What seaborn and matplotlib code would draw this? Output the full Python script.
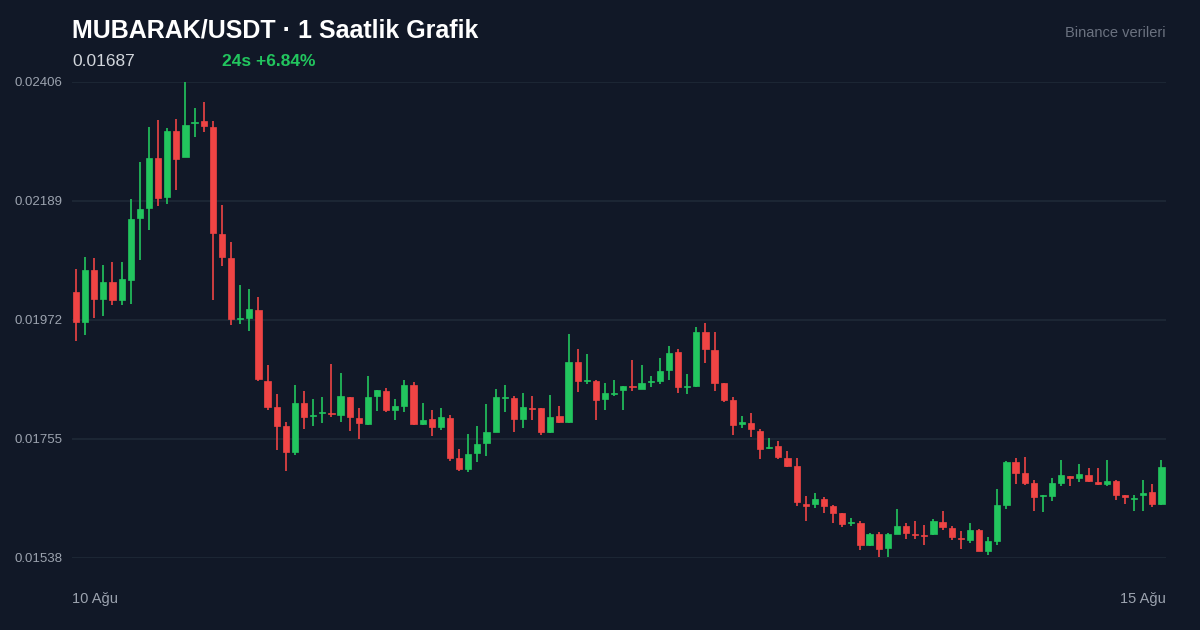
import numpy as np
import pandas as pd
import matplotlib
matplotlib.use("Agg")
import matplotlib.pyplot as plt
import seaborn as sns

# hourly candles, prices in units of 1e-5 USDT
opens = [2023, 1968, 2063, 2010, 2041, 2008, 2045, 2158, 2176, 2267,
         2196, 2317, 2269, 2331, 2335, 2324, 2129, 2085, 1974, 1976,
         1990, 1861, 1813, 1779, 1731, 1821, 1797, 1802, 1802, 1799,
         1831, 1793, 1782, 1833, 1842, 1808, 1815, 1853, 1782, 1791,
         1777, 1793, 1720, 1700, 1730, 1748, 1768, 1829, 1829, 1791,
         1811, 1811, 1768, 1797, 1786, 1895, 1861, 1861, 1828, 1837,
         1844, 1851, 1846, 1859, 1861, 1881, 1914, 1849, 1851, 1950,
         1917, 1857, 1826, 1782, 1784, 1769, 1739, 1742, 1720, 1706,
         1637, 1637, 1646, 1633, 1620, 1602, 1602, 1562, 1582, 1557,
         1582, 1596, 1582, 1580, 1582, 1604, 1593, 1575, 1571, 1589,
         1551, 1569, 1635, 1713, 1693, 1675, 1651, 1651, 1675, 1687,
         1684, 1689, 1677, 1673, 1678, 1653, 1646, 1653, 1658, 1636]
highs = [2065, 2087, 2085, 2072, 2078, 2078, 2193, 2260, 2324, 2337,
         2322, 2339, 2406, 2359, 2370, 2335, 2182, 2114, 2036, 2029,
         2014, 1890, 1837, 1786, 1853, 1842, 1828, 1831, 1892, 1875,
         1831, 1811, 1869, 1844, 1848, 1828, 1863, 1859, 1821, 1808,
         1811, 1799, 1737, 1764, 1779, 1819, 1846, 1853, 1833, 1839,
         1833, 1811, 1835, 1815, 1946, 1919, 1910, 1863, 1857, 1863,
         1851, 1899, 1890, 1870, 1902, 1925, 1919, 1873, 1959, 1966,
         1950, 1857, 1831, 1797, 1802, 1773, 1757, 1751, 1733, 1720,
         1651, 1657, 1649, 1635, 1620, 1611, 1606, 1584, 1586, 1584,
         1627, 1602, 1606, 1598, 1609, 1624, 1596, 1587, 1602, 1591,
         1577, 1664, 1715, 1720, 1722, 1680, 1653, 1684, 1717, 1687,
         1709, 1702, 1702, 1717, 1680, 1653, 1653, 1680, 1673, 1717]
lows = [1934, 1945, 1976, 1979, 1999, 1999, 2001, 2081, 2136, 2180,
        2183, 2209, 2269, 2306, 2315, 2008, 2070, 1963, 1965, 1952,
        1861, 1808, 1735, 1697, 1726, 1773, 1779, 1784, 1795, 1786,
        1769, 1755, 1780, 1806, 1804, 1790, 1804, 1780, 1780, 1760,
        1771, 1715, 1697, 1695, 1713, 1724, 1768, 1804, 1768, 1775,
        1790, 1762, 1766, 1784, 1784, 1841, 1855, 1790, 1808, 1833,
        1808, 1842, 1846, 1849, 1855, 1863, 1839, 1837, 1849, 1894,
        1842, 1822, 1762, 1775, 1758, 1718, 1737, 1718, 1704, 1633,
        1605, 1629, 1620, 1602, 1595, 1596, 1553, 1560, 1540, 1540,
        1582, 1573, 1573, 1562, 1580, 1589, 1571, 1555, 1566, 1551,
        1543, 1562, 1627, 1673, 1671, 1624, 1622, 1642, 1669, 1669,
        1677, 1677, 1671, 1669, 1644, 1636, 1624, 1624, 1631, 1635]
closes = [1968, 2063, 2010, 2041, 2008, 2047, 2156, 2175, 2267, 2195,
          2317, 2266, 2328, 2333, 2326, 2131, 2087, 1974, 1976, 1992,
          1864, 1813, 1779, 1731, 1821, 1795, 1799, 1804, 1800, 1833,
          1795, 1784, 1831, 1844, 1808, 1815, 1853, 1782, 1790, 1777,
          1795, 1720, 1700, 1728, 1746, 1768, 1831, 1831, 1791, 1813,
          1809, 1768, 1795, 1786, 1895, 1861, 1863, 1826, 1839, 1839,
          1851, 1849, 1857, 1861, 1879, 1912, 1849, 1851, 1950, 1919,
          1857, 1826, 1781, 1786, 1773, 1737, 1740, 1722, 1706, 1640,
          1633, 1646, 1633, 1620, 1600, 1604, 1562, 1582, 1555, 1582,
          1596, 1584, 1580, 1578, 1606, 1595, 1577, 1573, 1589, 1551,
          1569, 1635, 1713, 1693, 1675, 1649, 1653, 1675, 1689, 1684,
          1691, 1678, 1673, 1678, 1653, 1649, 1647, 1657, 1636, 1704]

y_ticks = [0.01538, 0.01755, 0.01972, 0.02189, 0.02406]
x_labels = ["10 Ağu", "15 Ağu"]

df = pd.DataFrame({"open": opens, "high": highs, "low": lows, "close": closes}) / 1e5
df["i"] = np.arange(len(df))
df["up"] = df["close"] >= df["open"]

BG = "#111827"
GREEN = "#22c55e"
RED = "#ef4444"

sns.set_theme(style="dark", rc={"axes.facecolor": BG, "figure.facecolor": BG})
plt.rcParams["font.family"] = ["Liberation Sans", "DejaVu Sans"]

fig = plt.figure(figsize=(12, 6.3), dpi=100)
ax = fig.add_axes([0.06, 0.1143, 0.9117, 0.7556])

colors = np.where(df["up"], GREEN, RED)
ax.vlines(df["i"], df["low"], df["high"], colors=colors, linewidth=1.2, zorder=2, clip_on=False)
body_lo = np.minimum(df["open"], df["close"])
body_h = np.maximum((df["close"] - df["open"]).abs(), 0.000018)
ax.bar(df["i"], body_h, bottom=body_lo, width=0.68, color=colors, edgecolor=colors,
       linewidth=0.5, zorder=3, clip_on=False)

ax.set_xlim(-0.44, 119.5)
ax.set_ylim(0.01538, 0.02406)
ax.set_yticks(y_ticks)
ax.set_yticklabels([f"{v:.5f}" for v in y_ticks], color="#9ca3af", fontsize=9.5)
ax.tick_params(axis="y", length=0, pad=7)
ax.set_xticks([])
ax.grid(axis="y", color="#1f2937", linewidth=1.2, zorder=0)
for s in ax.spines.values():
    s.set_visible(False)

fig.text(72 / 1200, 1 - 30 / 630, "MUBARAK/USDT · 1 Saatlik Grafik", color="white",
         fontsize=18, fontweight="bold", va="center", ha="left")
fig.text(72 / 1200, 1 - 61 / 630, "0.01687", color="#d1d5db", fontsize=12.5, va="center")
fig.text(222 / 1200, 1 - 61 / 630, "24s +6.84%", color=GREEN, fontsize=12.5,
         fontweight="bold", va="center")
fig.text(1166 / 1200, 1 - 33 / 630, "Binance verileri", color="#6b7280", fontsize=10.5,
         va="center", ha="right")
fig.text(72 / 1200, 1 - 599 / 630, x_labels[0], color="#9ca3af", fontsize=10.5,
         va="center", ha="left")
fig.text(1166 / 1200, 1 - 599 / 630, x_labels[1], color="#9ca3af", fontsize=10.5,
         va="center", ha="right")

fig.savefig("out.png", dpi=100, facecolor=BG)
